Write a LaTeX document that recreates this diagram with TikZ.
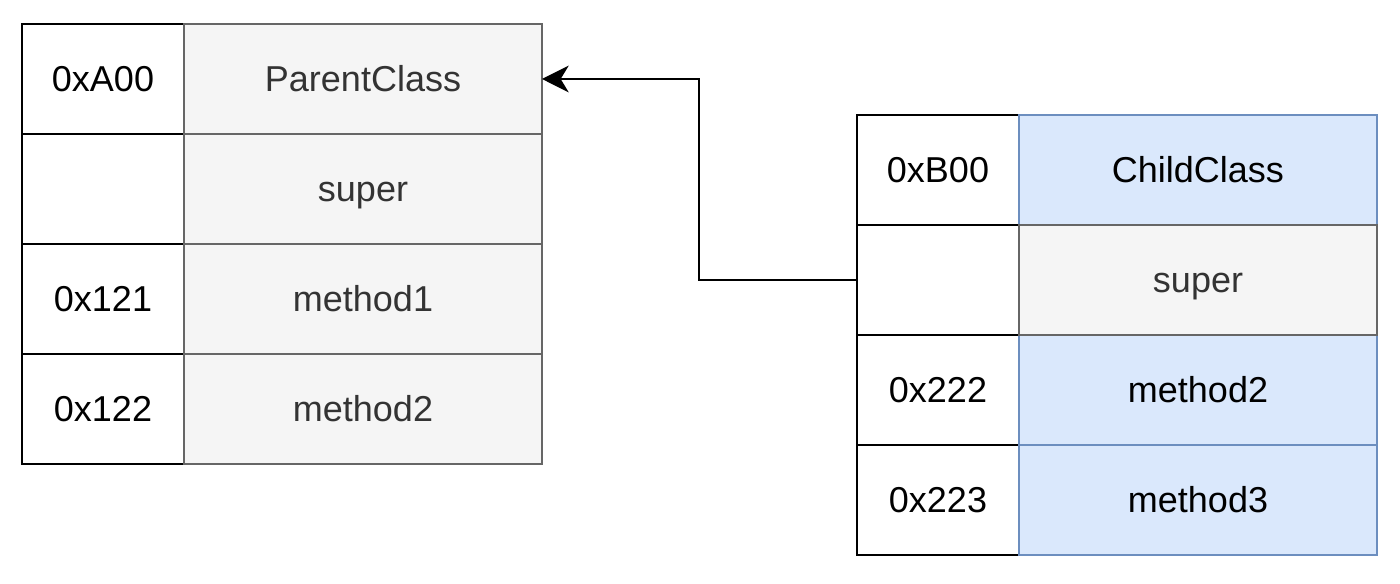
\documentclass[tikz,border=0pt]{standalone}
\usepackage{fontspec}
\setmainfont{Liberation Sans}
\usetikzlibrary{arrows.meta}

\definecolor{grayfill}{RGB}{245,245,245}
\definecolor{grayline}{RGB}{102,102,102}
\definecolor{graytext}{RGB}{51,51,51}
\definecolor{bluefill}{RGB}{218,232,252}
\definecolor{blueline}{RGB}{108,142,191}

\tikzset{every picture/.style={line width=1.5pt}}
\tikzset{
	cell/.style={rectangle, inner sep=0pt, outer sep=0pt, minimum height=82.5pt,
		font=\fontsize{27}{32}\selectfont, text height=19.4pt, text depth=0pt},
	addr/.style={cell, draw=black, fill=white, minimum width=121.5pt},
	gcell/.style={cell, draw=grayline, fill=grayfill, text=graytext, minimum width=268.5pt},
	bcell/.style={cell, draw=blueline, fill=bluefill, text=black, minimum width=268.5pt},
	link/.style={draw=black, -{Stealth[length=20pt, width=20pt, inset=6pt]}}
}

\begin{document}
\begin{tikzpicture}[x=0.75pt,y=0.75pt,yscale=-1,xscale=1]
	\useasboundingbox (0,0) rectangle (1400,584);

	%Left table: address column
	\node[addr] (pa1) at (103,79) {0xA00};
	\node[addr] (pa2) at (103,189) {};
	\node[addr] (pa3) at (103,299) {0x121};
	\node[addr] (pa4) at (103,409) {0x122};
	%Left table: parent class column
	\node[gcell] (pc1) at (363,79) {ParentClass};
	\node[gcell] (pc2) at (363,189) {super};
	\node[gcell] (pc3) at (363,299) {method1};
	\node[gcell] (pc4) at (363,409) {method2};

	%Right table: address column
	\node[addr] (ca1) at (938,170) {0xB00};
	\node[addr] (ca2) at (938,280) {};
	\node[addr] (ca3) at (938,390) {0x222};
	\node[addr] (ca4) at (938,500) {0x223};
	%Right table: child class column
	\node[bcell] (cc1) at (1198,170) {ChildClass};
	\node[bcell] (cc3) at (1198,390) {method2};
	\node[bcell] (cc4) at (1198,500) {method3};
	\node[gcell] (cc2) at (1198,280) {super};

	%Straight Lines: super pointer
	\coordinate (bend) at (699,280);
	\draw[link] (ca2.west) -- (bend) |- (pc1.east);

\end{tikzpicture}
\end{document}
